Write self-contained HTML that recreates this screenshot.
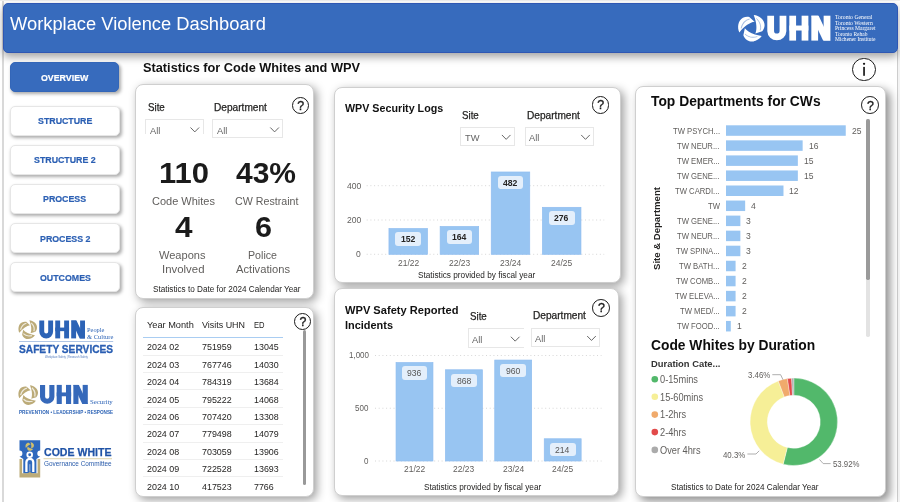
<!DOCTYPE html>
<html lang="en">
<head>
<meta charset="utf-8">
<title>Workplace Violence Dashboard</title>
<style>
html,body{margin:0;padding:0;}
body{width:900px;height:502px;overflow:hidden;background:#fff;position:relative;font-family:"Liberation Sans",sans-serif;color:#252423;}
.t{position:absolute;white-space:nowrap;line-height:1;transform-origin:0 0;margin:0;padding:0;font-weight:400;}
.abs{position:absolute;}
.card{position:absolute;box-sizing:border-box;background:#fff;border:1px solid #cfcfcf;border-radius:8px;box-shadow:3px 3px 10px rgba(0,0,0,.38);}
.hdr{position:absolute;box-sizing:border-box;background:#376bbd;border:1px solid #2f57b3;border-radius:5px;box-shadow:0 4px 8px rgba(0,0,0,.36);}
.nav{position:absolute;box-sizing:border-box;background:#fff;border:1px solid #e6e6e6;border-radius:5px;box-shadow:1.5px 2px 3.5px rgba(0,0,0,.33);}
.nav.on{background:#376bbd;border-color:#3366b8;}
.dd{position:absolute;box-sizing:border-box;border:1px solid #e7e7e7;background:#fff;}
.ic{position:absolute;box-sizing:border-box;border:1.35px solid #1a1a1a;border-radius:50%;background:#fff;}
.lbl{position:absolute;box-sizing:border-box;border-radius:3px;background:#e4effb;}
svg{position:absolute;left:0;top:0;overflow:visible;}
#app{position:absolute;left:0;top:0;width:900px;height:502px;will-change:transform;}
</style>
</head>
<body>
<div id="app">
<div class="abs" style="left:2px;top:0;width:1.6px;height:502px;background:#d9d9d9;"></div>
<div class="abs" style="left:0;top:0;width:900px;height:1px;background:#eee;"></div>
<div class="abs" style="left:897.2px;top:50px;width:1.1px;height:452px;background:#cdcdcd;"></div>
<div class="abs" style="left:898.3px;top:50px;width:1.7px;height:452px;background:#f3f3f3;"></div>
<header>
<div class="hdr" style="left:3.40px;top:2.80px;width:894.60px;height:50.70px;"></div>
<h1 class="t" style="left:10.30px;top:16px;font-size:17.60px;color:#fff;transform:scaleX(1.0411);">Workplace Violence Dashboard</h1>
</header>
<nav>
<div class="nav on" style="left:10.00px;top:62.20px;width:109.20px;height:29.40px;"></div>
<div class="t" style="left:41.31px;top:73px;font-size:9.80px;font-weight:700;color:#fff;transform:scaleX(0.9000);-webkit-text-stroke:0.2px #fff;">OVERVIEW</div>
<div class="nav" style="left:10.00px;top:105.50px;width:110.00px;height:30.30px;"></div>
<div class="t" style="left:37.80px;top:116px;font-size:9.80px;font-weight:700;color:#2b5fb3;transform:scaleX(0.9000);-webkit-text-stroke:0.2px #2b5fb3;">STRUCTURE</div>
<div class="nav" style="left:10.00px;top:144.70px;width:110.00px;height:30.10px;"></div>
<div class="t" style="left:34.13px;top:155px;font-size:9.80px;font-weight:700;color:#2b5fb3;transform:scaleX(0.9000);-webkit-text-stroke:0.2px #2b5fb3;">STRUCTURE 2</div>
<div class="nav" style="left:10.00px;top:183.90px;width:110.00px;height:30.10px;"></div>
<div class="t" style="left:43.43px;top:194px;font-size:9.80px;font-weight:700;color:#2b5fb3;transform:scaleX(0.9000);-webkit-text-stroke:0.2px #2b5fb3;">PROCESS</div>
<div class="nav" style="left:10.00px;top:223.10px;width:110.00px;height:30.10px;"></div>
<div class="t" style="left:39.76px;top:234px;font-size:9.80px;font-weight:700;color:#2b5fb3;transform:scaleX(0.9000);-webkit-text-stroke:0.2px #2b5fb3;">PROCESS 2</div>
<div class="nav" style="left:10.00px;top:262.30px;width:110.00px;height:30.10px;"></div>
<div class="t" style="left:39.52px;top:273px;font-size:9.80px;font-weight:700;color:#2b5fb3;transform:scaleX(0.9000);-webkit-text-stroke:0.2px #2b5fb3;">OUTCOMES</div>
</nav>
<main>
<h2 class="t" style="left:143.00px;top:61px;font-size:13.30px;font-weight:700;color:#111;transform:scaleX(0.9596);">Statistics for Code Whites and WPV</h2>
<div class="ic" style="left:852.40px;top:57.90px;width:23.20px;height:23.20px;border-width:1.5px;"></div>
<svg width="900" height="502" viewBox="0 0 900 502"><g fill="#1a1a1a"><rect x="863.2" y="66.9" width="1.7" height="8.9"/><circle cx="864.05" cy="63.8" r="1.15"/></g></svg>
<section>
<div class="card" style="left:135.00px;top:84.20px;width:179.20px;height:215.30px;"></div>
<div class="t" style="left:147.80px;top:103px;font-size:10.20px;transform:scaleX(0.9558);-webkit-text-stroke:0.25px #252423;">Site</div>
<div class="t" style="left:214.30px;top:103px;font-size:10.20px;transform:scaleX(0.9945);-webkit-text-stroke:0.25px #252423;">Department</div>
<div class="ic" style="left:291.70px;top:96.70px;width:17.80px;height:17.80px;"></div>
<div class="t" style="left:297.25px;top:100px;font-size:12.40px;color:#1a1a1a;-webkit-text-stroke:0.35px #1a1a1a;">?</div>
<div class="dd" style="left:145.40px;top:119.40px;width:58.20px;height:14.80px;border-bottom:none;"></div>
<div class="t" style="left:149.80px;top:126px;font-size:9.80px;color:#666;transform:scaleX(0.9500);">All</div>
<svg width="900" height="502" viewBox="0 0 900 502"><path d="M190.50 127.50 l4.3 4.4 l4.3 -4.4" fill="none" stroke="#555" stroke-width="0.9"/></svg>
<div class="dd" style="left:212.40px;top:119.40px;width:71.00px;height:18.60px;"></div>
<div class="t" style="left:216.80px;top:126px;font-size:9.80px;color:#666;transform:scaleX(0.9500);">All</div>
<svg width="900" height="502" viewBox="0 0 900 502"><path d="M270.30 127.50 l4.3 4.4 l4.3 -4.4" fill="none" stroke="#555" stroke-width="0.9"/></svg>
<div class="t" style="left:159.20px;top:158px;font-size:30.00px;font-weight:700;color:#1b1b1b;transform:scaleX(1.0330);">110</div>
<div class="t" style="left:236.00px;top:158px;font-size:30.00px;font-weight:700;color:#1b1b1b;">43%</div>
<div class="t" style="left:152.20px;top:195px;font-size:11.60px;color:#605e5c;transform:scaleX(0.9487);">Code Whites</div>
<div class="t" style="left:234.65px;top:195px;font-size:11.60px;color:#605e5c;transform:scaleX(0.9207);">CW Restraint</div>
<div class="t" style="left:174.55px;top:212px;font-size:30.00px;font-weight:700;color:#1b1b1b;transform:scaleX(1.0488);">4</div>
<div class="t" style="left:254.80px;top:212px;font-size:30.00px;font-weight:700;color:#1b1b1b;transform:scaleX(1.0189);">6</div>
<div class="t" style="left:159.05px;top:249px;font-size:11.60px;color:#605e5c;transform:scaleX(0.9529);">Weapons</div>
<div class="t" style="left:161.75px;top:263px;font-size:11.60px;color:#605e5c;transform:scaleX(0.9837);">Involved</div>
<div class="t" style="left:247.50px;top:249px;font-size:11.60px;color:#605e5c;transform:scaleX(0.9179);">Police</div>
<div class="t" style="left:236.30px;top:263px;font-size:11.60px;color:#605e5c;transform:scaleX(0.9627);">Activations</div>
<div class="t" style="left:153.00px;top:285px;font-size:8.90px;transform:scaleX(0.9204);">Statistics to Date for 2024 Calendar Year</div>
</section>
<section>
<div class="card" style="left:135.20px;top:307.40px;width:178.80px;height:189.20px;"></div>
<div class="ic" style="left:294.20px;top:313.00px;width:17.20px;height:17.20px;"></div>
<div class="t" style="left:299.45px;top:316px;font-size:12.40px;color:#1a1a1a;-webkit-text-stroke:0.35px #1a1a1a;">?</div>
<div class="abs" style="left:302.9px;top:330px;width:3.6px;height:154.7px;background:#999;border-radius:1.8px;"></div>
<div class="t" style="left:146.50px;top:320px;font-size:9.50px;transform:scaleX(0.9702);">Year Month</div>
<div class="t" style="left:201.80px;top:320px;font-size:9.50px;transform:scaleX(0.9399);">Visits UHN</div>
<div class="t" style="left:253.60px;top:320px;font-size:9.50px;transform:scaleX(0.8032);">ED</div>
<div class="abs" style="left:143px;top:337.2px;width:139.5px;height:1px;background:#a9cdf2;"></div>
<div class="t" style="left:146.70px;top:342px;font-size:9.40px;transform:scaleX(0.9506);">2024 02</div>
<div class="t" style="left:202.00px;top:342px;font-size:9.40px;transform:scaleX(0.9500);">751959</div>
<div class="t" style="left:254.20px;top:342px;font-size:9.40px;transform:scaleX(0.9487);">13045</div>
<div class="abs" style="left:143px;top:354.60px;width:139.5px;height:1px;background:#efefef;"></div>
<div class="t" style="left:146.70px;top:360px;font-size:9.40px;transform:scaleX(0.9506);">2024 03</div>
<div class="t" style="left:202.00px;top:360px;font-size:9.40px;transform:scaleX(0.9500);">767746</div>
<div class="t" style="left:254.20px;top:360px;font-size:9.40px;transform:scaleX(0.9487);">14030</div>
<div class="abs" style="left:143px;top:372.00px;width:139.5px;height:1px;background:#efefef;"></div>
<div class="t" style="left:146.70px;top:377px;font-size:9.40px;transform:scaleX(0.9506);">2024 04</div>
<div class="t" style="left:202.00px;top:377px;font-size:9.40px;transform:scaleX(0.9500);">784319</div>
<div class="t" style="left:254.20px;top:377px;font-size:9.40px;transform:scaleX(0.9487);">13684</div>
<div class="abs" style="left:143px;top:389.40px;width:139.5px;height:1px;background:#efefef;"></div>
<div class="t" style="left:146.70px;top:395px;font-size:9.40px;transform:scaleX(0.9506);">2024 05</div>
<div class="t" style="left:202.00px;top:395px;font-size:9.40px;transform:scaleX(0.9500);">795222</div>
<div class="t" style="left:254.20px;top:395px;font-size:9.40px;transform:scaleX(0.9487);">14068</div>
<div class="abs" style="left:143px;top:406.80px;width:139.5px;height:1px;background:#efefef;"></div>
<div class="t" style="left:146.70px;top:412px;font-size:9.40px;transform:scaleX(0.9506);">2024 06</div>
<div class="t" style="left:202.00px;top:412px;font-size:9.40px;transform:scaleX(0.9500);">707420</div>
<div class="t" style="left:254.20px;top:412px;font-size:9.40px;transform:scaleX(0.9487);">13308</div>
<div class="abs" style="left:143px;top:424.20px;width:139.5px;height:1px;background:#efefef;"></div>
<div class="t" style="left:146.70px;top:429px;font-size:9.40px;transform:scaleX(0.9506);">2024 07</div>
<div class="t" style="left:202.00px;top:429px;font-size:9.40px;transform:scaleX(0.9500);">779498</div>
<div class="t" style="left:254.20px;top:429px;font-size:9.40px;transform:scaleX(0.9487);">14079</div>
<div class="abs" style="left:143px;top:441.60px;width:139.5px;height:1px;background:#efefef;"></div>
<div class="t" style="left:146.70px;top:447px;font-size:9.40px;transform:scaleX(0.9506);">2024 08</div>
<div class="t" style="left:202.00px;top:447px;font-size:9.40px;transform:scaleX(0.9500);">703059</div>
<div class="t" style="left:254.20px;top:447px;font-size:9.40px;transform:scaleX(0.9487);">13906</div>
<div class="abs" style="left:143px;top:459.00px;width:139.5px;height:1px;background:#efefef;"></div>
<div class="t" style="left:146.70px;top:464px;font-size:9.40px;transform:scaleX(0.9506);">2024 09</div>
<div class="t" style="left:202.00px;top:464px;font-size:9.40px;transform:scaleX(0.9500);">722528</div>
<div class="t" style="left:254.20px;top:464px;font-size:9.40px;transform:scaleX(0.9487);">13693</div>
<div class="abs" style="left:143px;top:476.40px;width:139.5px;height:1px;background:#efefef;"></div>
<div class="t" style="left:146.70px;top:482px;font-size:9.40px;transform:scaleX(0.9506);">2024 10</div>
<div class="t" style="left:202.00px;top:482px;font-size:9.40px;transform:scaleX(0.9500);">417523</div>
<div class="t" style="left:254.20px;top:482px;font-size:9.40px;transform:scaleX(0.9468);">7766</div>
</section>
<section>
<div class="card" style="left:334.00px;top:86.50px;width:286.80px;height:196.80px;"></div>
<h3 class="t" style="left:344.60px;top:103px;font-size:11.00px;font-weight:700;color:#111;transform:scaleX(0.9737);">WPV Security Logs</h3>
<div class="t" style="left:462.40px;top:111px;font-size:10.20px;transform:scaleX(0.9558);-webkit-text-stroke:0.25px #252423;">Site</div>
<div class="t" style="left:527.30px;top:111px;font-size:10.20px;transform:scaleX(0.9945);-webkit-text-stroke:0.25px #252423;">Department</div>
<div class="ic" style="left:591.70px;top:96.10px;width:17.80px;height:17.80px;"></div>
<div class="t" style="left:597.25px;top:99px;font-size:12.40px;color:#1a1a1a;-webkit-text-stroke:0.35px #1a1a1a;">?</div>
<div class="dd" style="left:460.20px;top:126.60px;width:54.80px;height:19.10px;"></div>
<div class="t" style="left:464.60px;top:133px;font-size:9.80px;color:#666;transform:scaleX(0.9500);">TW</div>
<svg width="900" height="502" viewBox="0 0 900 502"><path d="M501.90 134.95 l4.3 4.4 l4.3 -4.4" fill="none" stroke="#555" stroke-width="0.9"/></svg>
<div class="dd" style="left:525.00px;top:126.60px;width:69.30px;height:19.10px;"></div>
<div class="t" style="left:529.40px;top:133px;font-size:9.80px;color:#666;transform:scaleX(0.9500);">All</div>
<svg width="900" height="502" viewBox="0 0 900 502"><path d="M581.20 134.95 l4.3 4.4 l4.3 -4.4" fill="none" stroke="#555" stroke-width="0.9"/></svg>
<svg width="900" height="502" viewBox="0 0 900 502"><line x1="366.7" y1="254.30" x2="604.2" y2="254.30" stroke="#d2d2d2" stroke-width="0.9" stroke-dasharray="1 2.7"/><line x1="366.7" y1="220.00" x2="604.2" y2="220.00" stroke="#d2d2d2" stroke-width="0.9" stroke-dasharray="1 2.7"/><line x1="366.7" y1="185.70" x2="604.2" y2="185.70" stroke="#d2d2d2" stroke-width="0.9" stroke-dasharray="1 2.7"/><rect x="388.95" y="228.58" width="38.50" height="25.72" fill="#98c5f2" stroke="#8fbdf0" stroke-width="0.7"/><rect x="440.15" y="226.52" width="38.50" height="27.78" fill="#98c5f2" stroke="#8fbdf0" stroke-width="0.7"/><rect x="491.25" y="171.99" width="38.50" height="82.31" fill="#98c5f2" stroke="#8fbdf0" stroke-width="0.7"/><rect x="542.45" y="207.32" width="38.50" height="46.98" fill="#98c5f2" stroke="#8fbdf0" stroke-width="0.7"/></svg>
<div class="t" style="left:356.04px;top:250px;font-size:9.20px;color:#605e5c;transform:scaleX(0.9300);">0</div>
<div class="t" style="left:346.52px;top:216px;font-size:9.20px;color:#605e5c;transform:scaleX(0.9300);">200</div>
<div class="t" style="left:346.52px;top:182px;font-size:9.20px;color:#605e5c;transform:scaleX(0.9300);">400</div>
<div class="lbl" style="left:395.30px;top:232.43px;width:25.80px;height:13.40px;"></div>
<div class="t" style="left:400.99px;top:235px;font-size:9.20px;font-weight:700;transform:scaleX(0.9400);">152</div>
<div class="t" style="left:397.61px;top:258px;font-size:9.40px;color:#605e5c;transform:scaleX(0.9000);">21/22</div>
<div class="lbl" style="left:446.50px;top:230.37px;width:25.80px;height:13.40px;"></div>
<div class="t" style="left:452.19px;top:233px;font-size:9.20px;font-weight:700;transform:scaleX(0.9400);">164</div>
<div class="t" style="left:448.81px;top:258px;font-size:9.40px;color:#605e5c;transform:scaleX(0.9000);">22/23</div>
<div class="lbl" style="left:497.60px;top:175.84px;width:25.80px;height:13.40px;"></div>
<div class="t" style="left:503.29px;top:179px;font-size:9.20px;font-weight:700;transform:scaleX(0.9400);">482</div>
<div class="t" style="left:499.91px;top:258px;font-size:9.40px;color:#605e5c;transform:scaleX(0.9000);">23/24</div>
<div class="lbl" style="left:548.80px;top:211.17px;width:25.80px;height:13.40px;"></div>
<div class="t" style="left:554.49px;top:214px;font-size:9.20px;font-weight:700;transform:scaleX(0.9400);">276</div>
<div class="t" style="left:551.11px;top:258px;font-size:9.40px;color:#605e5c;transform:scaleX(0.9000);">24/25</div>
<div class="t" style="left:418.30px;top:271px;font-size:9.20px;transform:scaleX(0.8969);">Statistics provided by fiscal year</div>
</section>
<section>
<div class="card" style="left:334.00px;top:287.60px;width:285.00px;height:208.40px;"></div>
<h3 class="t" style="left:344.70px;top:305px;font-size:11.00px;font-weight:700;color:#111;transform:scaleX(1.0092);">WPV Safety Reported</h3>
<div class="t" style="left:344.70px;top:320px;font-size:11.00px;font-weight:700;color:#111;transform:scaleX(0.9940);">Incidents</div>
<div class="t" style="left:470.00px;top:312px;font-size:10.20px;transform:scaleX(0.9558);-webkit-text-stroke:0.25px #252423;">Site</div>
<div class="t" style="left:533.30px;top:311px;font-size:10.20px;transform:scaleX(0.9945);-webkit-text-stroke:0.25px #252423;">Department</div>
<div class="ic" style="left:592.40px;top:299.10px;width:17.80px;height:17.80px;"></div>
<div class="t" style="left:597.95px;top:302px;font-size:12.40px;color:#1a1a1a;-webkit-text-stroke:0.35px #1a1a1a;">?</div>
<div class="dd" style="left:467.70px;top:328.30px;width:56.30px;height:19.30px;border-right:none;"></div>
<div class="t" style="left:472.10px;top:335px;font-size:9.80px;color:#666;transform:scaleX(0.9500);">All</div>
<svg width="900" height="502" viewBox="0 0 900 502"><path d="M510.90 336.75 l4.3 4.4 l4.3 -4.4" fill="none" stroke="#555" stroke-width="0.9"/></svg>
<div class="dd" style="left:531.00px;top:327.70px;width:69.30px;height:19.10px;"></div>
<div class="t" style="left:535.40px;top:334px;font-size:9.80px;color:#666;transform:scaleX(0.9500);">All</div>
<svg width="900" height="502" viewBox="0 0 900 502"><path d="M587.20 336.05 l4.3 4.4 l4.3 -4.4" fill="none" stroke="#555" stroke-width="0.9"/></svg>
<svg width="900" height="502" viewBox="0 0 900 502"><line x1="375.0" y1="461.00" x2="601.5" y2="461.00" stroke="#d2d2d2" stroke-width="0.9" stroke-dasharray="1 2.7"/><line x1="375.0" y1="408.25" x2="601.5" y2="408.25" stroke="#d2d2d2" stroke-width="0.9" stroke-dasharray="1 2.7"/><line x1="375.0" y1="355.50" x2="601.5" y2="355.50" stroke="#d2d2d2" stroke-width="0.9" stroke-dasharray="1 2.7"/><rect x="396.05" y="362.60" width="36.90" height="98.40" fill="#98c5f2" stroke="#8fbdf0" stroke-width="0.7"/><rect x="445.45" y="369.78" width="36.90" height="91.22" fill="#98c5f2" stroke="#8fbdf0" stroke-width="0.7"/><rect x="494.75" y="360.07" width="36.90" height="100.93" fill="#98c5f2" stroke="#8fbdf0" stroke-width="0.7"/><rect x="544.25" y="438.77" width="36.90" height="22.23" fill="#98c5f2" stroke="#8fbdf0" stroke-width="0.7"/></svg>
<div class="t" style="left:364.35px;top:457px;font-size:9.20px;color:#605e5c;transform:scaleX(0.8700);">0</div>
<div class="t" style="left:355.45px;top:404px;font-size:9.20px;color:#605e5c;transform:scaleX(0.8700);">500</div>
<div class="t" style="left:348.77px;top:351px;font-size:9.20px;color:#605e5c;transform:scaleX(0.8700);">1,000</div>
<div class="lbl" style="left:401.60px;top:366.45px;width:25.80px;height:13.40px;"></div>
<div class="t" style="left:407.29px;top:369px;font-size:9.20px;color:#555;transform:scaleX(0.9400);">936</div>
<div class="t" style="left:403.91px;top:464px;font-size:9.40px;color:#605e5c;transform:scaleX(0.9000);">21/22</div>
<div class="lbl" style="left:451.00px;top:373.63px;width:25.80px;height:13.40px;"></div>
<div class="t" style="left:456.69px;top:377px;font-size:9.20px;color:#555;transform:scaleX(0.9400);">868</div>
<div class="t" style="left:453.31px;top:464px;font-size:9.40px;color:#605e5c;transform:scaleX(0.9000);">22/23</div>
<div class="lbl" style="left:500.30px;top:363.92px;width:25.80px;height:13.40px;"></div>
<div class="t" style="left:505.99px;top:367px;font-size:9.20px;color:#555;transform:scaleX(0.9400);">960</div>
<div class="t" style="left:502.61px;top:464px;font-size:9.40px;color:#605e5c;transform:scaleX(0.9000);">23/24</div>
<div class="lbl" style="left:549.80px;top:442.62px;width:25.80px;height:13.40px;"></div>
<div class="t" style="left:555.49px;top:446px;font-size:9.20px;color:#555;transform:scaleX(0.9400);">214</div>
<div class="t" style="left:552.11px;top:464px;font-size:9.40px;color:#605e5c;transform:scaleX(0.9000);">24/25</div>
<div class="t" style="left:423.60px;top:483px;font-size:9.20px;transform:scaleX(0.8969);">Statistics provided by fiscal year</div>
</section>
<section>
<div class="card" style="left:635.30px;top:85.90px;width:250.40px;height:411.40px;box-shadow:4px 4px 10px rgba(0,0,0,.45);"></div>
<h3 class="t" style="left:651.00px;top:93px;font-size:15.40px;font-weight:700;color:#0d0d0d;transform:scaleX(0.8988);">Top Departments for CWs</h3>
<div class="ic" style="left:861.40px;top:96.30px;width:17.80px;height:17.80px;"></div>
<div class="t" style="left:866.95px;top:100px;font-size:12.40px;color:#1a1a1a;-webkit-text-stroke:0.35px #1a1a1a;">?</div>
<div class="abs" style="left:866.3px;top:119.2px;width:3.4px;height:218px;background:#e3e3e3;border-radius:1.7px;"></div>
<div class="abs" style="left:866.3px;top:119.2px;width:3.4px;height:160.6px;background:#9a9a9a;border-radius:1.7px;"></div>
<svg width="900" height="502" viewBox="0 0 900 502"><rect x="726" y="125.30" width="119.75" height="10.5" fill="#98c5f2"/><rect x="726" y="140.35" width="76.64" height="10.5" fill="#98c5f2"/><rect x="726" y="155.40" width="71.85" height="10.5" fill="#98c5f2"/><rect x="726" y="170.45" width="71.85" height="10.5" fill="#98c5f2"/><rect x="726" y="185.50" width="57.48" height="10.5" fill="#98c5f2"/><rect x="726" y="200.55" width="19.16" height="10.5" fill="#98c5f2"/><rect x="726" y="215.60" width="14.37" height="10.5" fill="#98c5f2"/><rect x="726" y="230.65" width="14.37" height="10.5" fill="#98c5f2"/><rect x="726" y="245.70" width="14.37" height="10.5" fill="#98c5f2"/><rect x="726" y="260.75" width="9.58" height="10.5" fill="#98c5f2"/><rect x="726" y="275.80" width="9.58" height="10.5" fill="#98c5f2"/><rect x="726" y="290.85" width="9.58" height="10.5" fill="#98c5f2"/><rect x="726" y="305.90" width="9.58" height="10.5" fill="#98c5f2"/><rect x="726" y="320.95" width="4.79" height="10.5" fill="#98c5f2"/></svg>
<div class="t" style="left:672.57px;top:127px;font-size:9.00px;color:#605e5c;transform:scaleX(0.8550);">TW PSYCH...</div>
<div class="t" style="left:851.75px;top:127px;font-size:9.00px;color:#605e5c;transform:scaleX(0.9500);">25</div>
<div class="t" style="left:677.28px;top:142px;font-size:9.00px;color:#605e5c;transform:scaleX(0.8550);">TW NEUR...</div>
<div class="t" style="left:808.64px;top:142px;font-size:9.00px;color:#605e5c;transform:scaleX(0.9500);">16</div>
<div class="t" style="left:676.85px;top:157px;font-size:9.00px;color:#605e5c;transform:scaleX(0.8550);">TW EMER...</div>
<div class="t" style="left:803.85px;top:157px;font-size:9.00px;color:#605e5c;transform:scaleX(0.9500);">15</div>
<div class="t" style="left:677.28px;top:172px;font-size:9.00px;color:#605e5c;transform:scaleX(0.8550);">TW GENE...</div>
<div class="t" style="left:803.85px;top:172px;font-size:9.00px;color:#605e5c;transform:scaleX(0.9500);">15</div>
<div class="t" style="left:675.14px;top:187px;font-size:9.00px;color:#605e5c;transform:scaleX(0.8550);">TW CARDI...</div>
<div class="t" style="left:789.48px;top:187px;font-size:9.00px;color:#605e5c;transform:scaleX(0.9500);">12</div>
<div class="t" style="left:707.64px;top:202px;font-size:9.00px;color:#605e5c;transform:scaleX(0.8550);">TW</div>
<div class="t" style="left:751.16px;top:202px;font-size:9.00px;color:#605e5c;transform:scaleX(0.9500);">4</div>
<div class="t" style="left:677.28px;top:217px;font-size:9.00px;color:#605e5c;transform:scaleX(0.8550);">TW GENE...</div>
<div class="t" style="left:746.37px;top:217px;font-size:9.00px;color:#605e5c;transform:scaleX(0.9500);">3</div>
<div class="t" style="left:677.28px;top:232px;font-size:9.00px;color:#605e5c;transform:scaleX(0.8550);">TW NEUR...</div>
<div class="t" style="left:746.37px;top:232px;font-size:9.00px;color:#605e5c;transform:scaleX(0.9500);">3</div>
<div class="t" style="left:675.99px;top:247px;font-size:9.00px;color:#605e5c;transform:scaleX(0.8550);">TW SPINA...</div>
<div class="t" style="left:746.37px;top:247px;font-size:9.00px;color:#605e5c;transform:scaleX(0.9500);">3</div>
<div class="t" style="left:679.13px;top:262px;font-size:9.00px;color:#605e5c;transform:scaleX(0.8550);">TW BATH...</div>
<div class="t" style="left:741.58px;top:262px;font-size:9.00px;color:#605e5c;transform:scaleX(0.9500);">2</div>
<div class="t" style="left:676.00px;top:277px;font-size:9.00px;color:#605e5c;transform:scaleX(0.8550);">TW COMB...</div>
<div class="t" style="left:741.58px;top:277px;font-size:9.00px;color:#605e5c;transform:scaleX(0.9500);">2</div>
<div class="t" style="left:674.85px;top:292px;font-size:9.00px;color:#605e5c;transform:scaleX(0.8550);">TW ELEVA...</div>
<div class="t" style="left:741.58px;top:292px;font-size:9.00px;color:#605e5c;transform:scaleX(0.9500);">2</div>
<div class="t" style="left:679.85px;top:307px;font-size:9.00px;color:#605e5c;transform:scaleX(0.8550);">TW MED/...</div>
<div class="t" style="left:741.58px;top:307px;font-size:9.00px;color:#605e5c;transform:scaleX(0.9500);">2</div>
<div class="t" style="left:676.86px;top:322px;font-size:9.00px;color:#605e5c;transform:scaleX(0.8550);">TW FOOD...</div>
<div class="t" style="left:736.79px;top:322px;font-size:9.00px;color:#605e5c;transform:scaleX(0.9500);">1</div>
<div class="t" style="left:652.2px;top:270.3px;font-size:9.6px;font-weight:700;color:#252423;transform-origin:0 0;transform:rotate(-90deg) scaleX(0.9974);">Site &amp; Department</div>
<h3 class="t" style="left:650.80px;top:337px;font-size:15.40px;font-weight:700;color:#0d0d0d;transform:scaleX(0.8973);">Code Whites by Duration</h3>
<div class="t" style="left:650.80px;top:359px;font-size:9.80px;font-weight:700;color:#333;transform:scaleX(0.9583);">Duration Cate...</div>
<svg width="900" height="502" viewBox="0 0 900 502"><circle cx="654.8" cy="379.3" r="3.3" fill="#52b86b"/><circle cx="654.8" cy="396.8" r="3.3" fill="#f6ef97"/><circle cx="654.8" cy="414.6" r="3.3" fill="#f0aa6c"/><circle cx="654.8" cy="432.1" r="3.3" fill="#e24a4a"/><circle cx="654.8" cy="449.9" r="3.3" fill="#ababab"/><path d="M793.80 378.10 A43.70 43.70 0 1 1 783.15 464.18 L787.34 447.50 A26.50 26.50 0 1 0 793.80 395.30 Z" fill="#52b86b" stroke="#fff" stroke-width="0.35"/><path d="M783.15 464.18 A43.70 43.70 0 0 1 778.28 380.95 L784.39 397.03 A26.50 26.50 0 0 0 787.34 447.50 Z" fill="#f6ef97" stroke="#fff" stroke-width="0.35"/><path d="M778.28 380.95 A43.70 43.70 0 0 1 787.45 378.56 L789.95 395.58 A26.50 26.50 0 0 0 784.39 397.03 Z" fill="#f0aa6c" stroke="#fff" stroke-width="0.35"/><path d="M787.45 378.56 A43.70 43.70 0 0 1 791.66 378.15 L792.50 395.33 A26.50 26.50 0 0 0 789.95 395.58 Z" fill="#e24a4a" stroke="#fff" stroke-width="0.35"/><path d="M791.66 378.15 A43.70 43.70 0 0 1 793.80 378.10 L793.80 395.30 A26.50 26.50 0 0 0 792.50 395.33 Z" fill="#ababab" stroke="#fff" stroke-width="0.35"/><path d="M772.3 374.7 h8.3 l2.4 5" fill="none" stroke="#9a9a9a" stroke-width="0.8"/><path d="M747.4 454 h8.6 l3.2 -3.2" fill="none" stroke="#9a9a9a" stroke-width="0.8"/><path d="M830.6 463.6 h-7.4 l-3.6 -4" fill="none" stroke="#9a9a9a" stroke-width="0.8"/></svg>
<div class="t" style="left:660.40px;top:374px;font-size:10.60px;color:#605e5c;transform:scaleX(0.8708);">0-15mins</div>
<div class="t" style="left:660.40px;top:392px;font-size:10.60px;color:#605e5c;transform:scaleX(0.8708);">15-60mins</div>
<div class="t" style="left:660.40px;top:409px;font-size:10.60px;color:#605e5c;transform:scaleX(0.8708);">1-2hrs</div>
<div class="t" style="left:660.40px;top:427px;font-size:10.60px;color:#605e5c;transform:scaleX(0.8708);">2-4hrs</div>
<div class="t" style="left:660.40px;top:445px;font-size:10.60px;color:#605e5c;transform:scaleX(0.8708);">Over 4hrs</div>
<div class="t" style="left:748.30px;top:371px;font-size:9.00px;color:#605e5c;transform:scaleX(0.8739);">3.46%</div>
<div class="t" style="left:722.60px;top:451px;font-size:9.00px;color:#605e5c;transform:scaleX(0.8739);">40.3%</div>
<div class="t" style="left:833.20px;top:460px;font-size:9.00px;color:#605e5c;transform:scaleX(0.8681);">53.92%</div>
<div class="t" style="left:671.20px;top:483px;font-size:8.90px;transform:scaleX(0.9204);">Statistics to Date for 2024 Calendar Year</div>
</section>
</main>
<aside>
<svg width="900" height="502" viewBox="0 0 900 502"><g transform="translate(751.60 27.80) scale(1.000)" fill="#fff"><path transform="rotate(0)" d="M2.1,-12.9 C7.5,-12.6 13.3,-8 13,-2.5 C12.9,-0.2 12,1.8 10.6,3.4 L3.8,5.6 C5.5,1.4 5.3,-5 2.1,-12.9 Z"/><path transform="rotate(0)" d="M4.8,-9.4 C8.6,-5.5 9.8,-1.5 8.6,2.6" fill="none" stroke="#376bbd" stroke-width="0.90" stroke-opacity="0.45"/><path transform="rotate(120)" d="M2.1,-12.9 C7.5,-12.6 13.3,-8 13,-2.5 C12.9,-0.2 12,1.8 10.6,3.4 L3.8,5.6 C5.5,1.4 5.3,-5 2.1,-12.9 Z"/><path transform="rotate(120)" d="M4.8,-9.4 C8.6,-5.5 9.8,-1.5 8.6,2.6" fill="none" stroke="#376bbd" stroke-width="0.90" stroke-opacity="0.45"/><path transform="rotate(240)" d="M2.1,-12.9 C7.5,-12.6 13.3,-8 13,-2.5 C12.9,-0.2 12,1.8 10.6,3.4 L3.8,5.6 C5.5,1.4 5.3,-5 2.1,-12.9 Z"/><path transform="rotate(240)" d="M4.8,-9.4 C8.6,-5.5 9.8,-1.5 8.6,2.6" fill="none" stroke="#376bbd" stroke-width="0.90" stroke-opacity="0.45"/></g><g fill="#fff" stroke="none"><path d="M770.68 15.70 V31.07 A6.15 6.15 0 0 0 782.97 31.07 V15.70" fill="none" stroke="#fff" stroke-width="6.76"/><rect x="789.32" y="15.70" width="6.76" height="24.90"/><rect x="801.61" y="15.70" width="6.76" height="24.90"/><rect x="789.32" y="25.54" width="19.06" height="4.98"/><rect x="811.34" y="15.70" width="6.76" height="24.90"/><rect x="823.64" y="15.70" width="6.76" height="24.90"/><path d="M811.34 15.70 h7.31 L830.40 40.60 h-7.31 Z"/></g><g transform="translate(27.90 329.40) scale(0.700)" fill="#bcab78"><path transform="rotate(0)" d="M2.1,-12.9 C7.5,-12.6 13.3,-8 13,-2.5 C12.9,-0.2 12,1.8 10.6,3.4 L3.8,5.6 C5.5,1.4 5.3,-5 2.1,-12.9 Z"/><path transform="rotate(0)" d="M4.8,-9.4 C8.6,-5.5 9.8,-1.5 8.6,2.6" fill="none" stroke="#fff" stroke-width="1.70" stroke-opacity="0.75"/><path transform="rotate(120)" d="M2.1,-12.9 C7.5,-12.6 13.3,-8 13,-2.5 C12.9,-0.2 12,1.8 10.6,3.4 L3.8,5.6 C5.5,1.4 5.3,-5 2.1,-12.9 Z"/><path transform="rotate(120)" d="M4.8,-9.4 C8.6,-5.5 9.8,-1.5 8.6,2.6" fill="none" stroke="#fff" stroke-width="1.70" stroke-opacity="0.75"/><path transform="rotate(240)" d="M2.1,-12.9 C7.5,-12.6 13.3,-8 13,-2.5 C12.9,-0.2 12,1.8 10.6,3.4 L3.8,5.6 C5.5,1.4 5.3,-5 2.1,-12.9 Z"/><path transform="rotate(240)" d="M4.8,-9.4 C8.6,-5.5 9.8,-1.5 8.6,2.6" fill="none" stroke="#fff" stroke-width="1.70" stroke-opacity="0.75"/></g><g fill="#2c63b6" stroke="none"><path d="M41.75 320.50 V331.50 A4.45 4.45 0 0 0 50.65 331.50 V320.50" fill="none" stroke="#2c63b6" stroke-width="4.90"/><rect x="55.25" y="320.50" width="4.90" height="17.90"/><rect x="64.15" y="320.50" width="4.90" height="17.90"/><rect x="55.25" y="327.57" width="13.80" height="3.58"/><rect x="71.20" y="320.50" width="4.90" height="17.90"/><rect x="80.10" y="320.50" width="4.90" height="17.90"/><path d="M71.20 320.50 h5.29 L85.00 338.40 h-5.29 Z"/></g><rect x="19" y="341" width="94.2" height="0.9" fill="#a6bfe3"/><g transform="translate(28.40 394.70) scale(0.740)" fill="#bcab78"><path transform="rotate(0)" d="M2.1,-12.9 C7.5,-12.6 13.3,-8 13,-2.5 C12.9,-0.2 12,1.8 10.6,3.4 L3.8,5.6 C5.5,1.4 5.3,-5 2.1,-12.9 Z"/><path transform="rotate(0)" d="M4.8,-9.4 C8.6,-5.5 9.8,-1.5 8.6,2.6" fill="none" stroke="#fff" stroke-width="1.70" stroke-opacity="0.75"/><path transform="rotate(120)" d="M2.1,-12.9 C7.5,-12.6 13.3,-8 13,-2.5 C12.9,-0.2 12,1.8 10.6,3.4 L3.8,5.6 C5.5,1.4 5.3,-5 2.1,-12.9 Z"/><path transform="rotate(120)" d="M4.8,-9.4 C8.6,-5.5 9.8,-1.5 8.6,2.6" fill="none" stroke="#fff" stroke-width="1.70" stroke-opacity="0.75"/><path transform="rotate(240)" d="M2.1,-12.9 C7.5,-12.6 13.3,-8 13,-2.5 C12.9,-0.2 12,1.8 10.6,3.4 L3.8,5.6 C5.5,1.4 5.3,-5 2.1,-12.9 Z"/><path transform="rotate(240)" d="M4.8,-9.4 C8.6,-5.5 9.8,-1.5 8.6,2.6" fill="none" stroke="#fff" stroke-width="1.70" stroke-opacity="0.75"/></g><g fill="#3669ba" stroke="none"><path d="M42.56 384.90 V396.78 A4.66 4.66 0 0 0 51.87 396.78 V384.90" fill="none" stroke="#3669ba" stroke-width="5.12"/><rect x="56.68" y="384.90" width="5.12" height="19.10"/><rect x="65.99" y="384.90" width="5.12" height="19.10"/><rect x="56.68" y="392.44" width="14.44" height="3.82"/><rect x="73.36" y="384.90" width="5.12" height="19.10"/><rect x="82.68" y="384.90" width="5.12" height="19.10"/><path d="M73.36 384.90 h5.53 L87.80 404.00 h-5.53 Z"/></g><path d="M19.5 440.3 H40.2 V450.6 A2.9 2.9 0 0 0 40.2 456.4 L36.4 459 V473.4 H23.3 V459 L19.5 456.4 A2.9 2.9 0 0 0 19.5 450.6 Z" fill="#2f69bd"/><path d="M19.5 459 H22.1 V473.2 H27.6 L29.85 471.9 L32.1 473.2 H37.6 V459 H40.2 V477.6 H19.5 Z" fill="#bcab78"/><g transform="translate(29.80 446.40) scale(0.320)" fill="#d2bf6c"><path transform="rotate(0)" d="M2.1,-12.9 C7.5,-12.6 13.3,-8 13,-2.5 C12.9,-0.2 12,1.8 10.6,3.4 L3.8,5.6 C5.5,1.4 5.3,-5 2.1,-12.9 Z"/><path transform="rotate(120)" d="M2.1,-12.9 C7.5,-12.6 13.3,-8 13,-2.5 C12.9,-0.2 12,1.8 10.6,3.4 L3.8,5.6 C5.5,1.4 5.3,-5 2.1,-12.9 Z"/><path transform="rotate(240)" d="M2.1,-12.9 C7.5,-12.6 13.3,-8 13,-2.5 C12.9,-0.2 12,1.8 10.6,3.4 L3.8,5.6 C5.5,1.4 5.3,-5 2.1,-12.9 Z"/></g><circle cx="29.7" cy="454.7" r="3.3" fill="#fff"/><circle cx="29.7" cy="454.7" r="1.45" fill="#2f69bd"/><path d="M26.4 472 V462.3 A3.45 3.45 0 0 1 33.3 462.3 V472" fill="none" stroke="#fff" stroke-width="2.3"/><path d="M29.85 464.2 V471.6" fill="none" stroke="#fff" stroke-width="0.7" stroke-opacity="0.8"/><rect x="43.5" y="458.3" width="68.5" height="0.9" fill="#d9cea0"/></svg>
<div class="t" style="left:834.60px;top:15px;font-size:5.90px;color:#fff;font-family:'Liberation Serif',serif;transform:scaleX(0.9679);">Toronto General</div>
<div class="t" style="left:834.60px;top:21px;font-size:5.90px;color:#fff;font-family:'Liberation Serif',serif;transform:scaleX(0.9656);">Toronto Western</div>
<div class="t" style="left:834.60px;top:26px;font-size:5.90px;color:#fff;font-family:'Liberation Serif',serif;transform:scaleX(0.9495);">Princess Margaret</div>
<div class="t" style="left:834.60px;top:32px;font-size:5.90px;color:#fff;font-family:'Liberation Serif',serif;transform:scaleX(0.9219);">Toronto Rehab</div>
<div class="t" style="left:834.60px;top:37px;font-size:5.90px;color:#fff;font-family:'Liberation Serif',serif;transform:scaleX(0.9351);">Michener Institute</div>
<div class="t" style="left:87.20px;top:327px;font-size:6.80px;color:#2c63b6;font-family:'Liberation Serif',serif;transform:scaleX(0.9402);">People</div>
<div class="t" style="left:87.20px;top:334px;font-size:6.80px;color:#2c63b6;font-family:'Liberation Serif',serif;transform:scaleX(0.9603);">&amp; Culture</div>
<div class="t" style="left:19.00px;top:343px;font-size:11.60px;font-weight:700;color:#2a5eb2;transform:scaleX(0.8785);-webkit-text-stroke:0.3px #2a5eb2;">SAFETY SERVICES</div>
<div class="t" style="left:45.00px;top:356px;font-size:3.40px;color:#5078bb;transform:scaleX(0.7891);">Workplace Safety | Research Safety</div>
<div class="t" style="left:90.30px;top:399px;font-size:6.80px;color:#2c63b6;font-family:'Liberation Serif',serif;transform:scaleX(1.0061);">Security</div>
<div class="t" style="left:19.00px;top:409px;font-size:6.10px;font-weight:700;color:#2c63b6;transform:scaleX(0.7608);">PREVENTION • LEADERSHIP • RESPONSE</div>
<div class="t" style="left:43.60px;top:447px;font-size:11.40px;font-weight:700;color:#2053a6;transform:scaleX(0.9282);-webkit-text-stroke:0.25px #2053a6;">CODE WHITE</div>
<div class="t" style="left:43.60px;top:460px;font-size:7.00px;color:#2a5cab;transform:scaleX(0.9145);">Governance Committee</div>
</aside>
</div>
</body>
</html>
